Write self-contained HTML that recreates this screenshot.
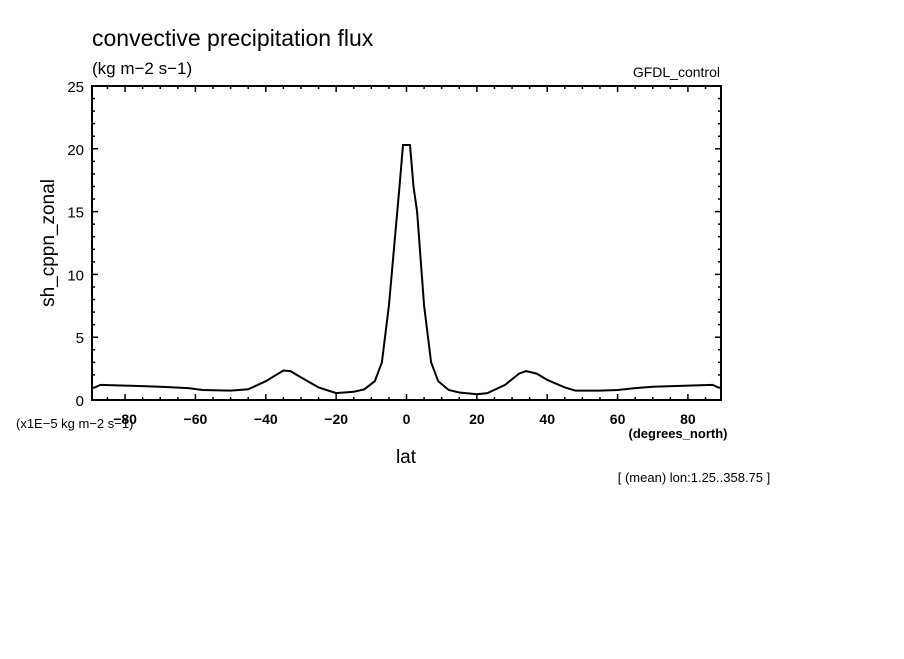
<!DOCTYPE html>
<html><head><meta charset="utf-8"><style>
body{margin:0;background:#fff;}
svg text{font-family:"Liberation Sans",sans-serif;fill:#000;}
</style></head><body>
<svg id="chart" width="904" height="654" viewBox="0 0 904 654" xmlns="http://www.w3.org/2000/svg">
<rect width="904" height="654" fill="#fff"/>
<text x="92" y="46" font-size="23">convective precipitation flux</text>
<text x="92" y="74" font-size="17">(kg m−2 s−1)</text>
<text x="720" y="77" font-size="14" text-anchor="end">GFDL_control</text>
<text transform="translate(54,243) rotate(-90)" font-size="19" text-anchor="middle">sh_cppn_zonal</text>
<text x="16" y="428" font-size="13">(x1E−5 kg m−2 s−1)</text>
<text x="406" y="463" font-size="19" text-anchor="middle">lat</text>
<text x="678" y="438" font-size="13" font-weight="bold" text-anchor="middle">(degrees_north)</text>
<text x="694" y="482" font-size="13" text-anchor="middle">[ (mean) lon:1.25..358.75 ]</text>
<g id="axes"></g>
<rect x="92" y="86" width="629" height="314" fill="none" stroke="#000" stroke-width="2"/>
<path id="line" fill="none" stroke="#000" stroke-width="2"/>
</svg>
<script>
const lats = [-89,-87,-80,-70,-62,-58,-50,-45,-40,-35,-33,-30,-25,-20,-15,-12,-9,-7,-5,-2,-1,1,2,3,5,7,9,12,15,20,23,28,32,34,37,40,45,48,55,60,65,70,80,87,89];
const values = [0.95,1.2,1.15,1.05,0.95,0.8,0.75,0.85,1.5,2.35,2.3,1.8,1.0,0.55,0.65,0.85,1.5,3.0,7.5,17,20.3,20.3,17,15,7.5,3.0,1.5,0.8,0.6,0.45,0.55,1.2,2.1,2.3,2.1,1.6,1.0,0.75,0.75,0.8,0.95,1.05,1.15,1.2,0.95];
const xTicks = [-80,-60,-40,-20,0,20,40,60,80];
const yTicks = [0,5,10,15,20,25];
const X0=92,X1=721,Y0=400,Y1=86,XMIN=-89.4,XMAX=89.4,YMIN=0,YMAX=25;
function xs(v){return X0+(v-XMIN)/(XMAX-XMIN)*(X1-X0);}
function ys(v){return Y0-(v-YMIN)/(YMAX-YMIN)*(Y0-Y1);}
const ns="http://www.w3.org/2000/svg";
const g=document.getElementById('axes');
function ln(x1,y1,x2,y2,name){const l=document.createElementNS(ns,'line');
l.setAttribute('x1',x1);l.setAttribute('y1',y1);l.setAttribute('x2',x2);l.setAttribute('y2',y2);
l.setAttribute('stroke','#000');l.setAttribute('stroke-width','1.5');


g.appendChild(l);}
for(let v=-85;v<=85;v+=5){const x=xs(v);const major=v%20===0;const L=major?6:3;
ln(x,Y0,x,Y0-L,'x-tick');ln(x,Y1,x,Y1+L,'x-tick-top');}
for(let v=1;v<25;v++){const y=ys(v);const major=v%5===0;const L=major?6:3;
ln(X0,y,X0+L,y,'y-tick');ln(X1,y,X1-L,y,'y-tick-right');}
xTicks.forEach(v=>{const t=document.createElementNS(ns,'text');
t.setAttribute('x',xs(v));t.setAttribute('y',Y0+24);t.setAttribute('font-size','14');t.setAttribute('font-weight','bold');t.setAttribute('text-anchor','middle');
t.textContent=(v<0?'−':'')+Math.abs(v);


g.appendChild(t);});
yTicks.forEach(v=>{const t=document.createElementNS(ns,'text');
t.setAttribute('x',X0-8);t.setAttribute('y',ys(v)+6);t.setAttribute('font-size','15');t.setAttribute('text-anchor','end');
t.textContent=v;


g.appendChild(t);});
document.getElementById('line').setAttribute('d',lats.map((v,i)=>(i?'L':'M')+xs(v).toFixed(1)+','+ys(values[i]).toFixed(1)).join(''));
</script>
</body></html>
